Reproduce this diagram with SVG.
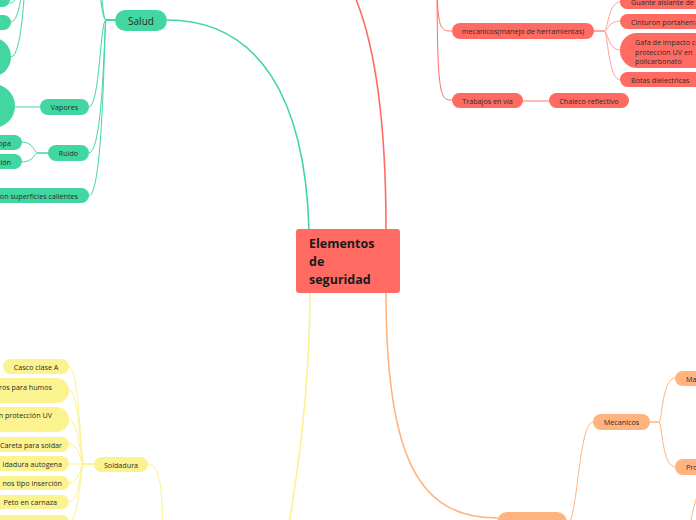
<svg xmlns="http://www.w3.org/2000/svg" width="696" height="520" viewBox="0 0 696 520">
<style>
text{font-family:"Open Sans","Liberation Sans",sans-serif;fill:#2b2b2b;font-size:7.2px;dominant-baseline:central}
.c{text-anchor:middle}.e{text-anchor:end}
.g{fill:#42D6A1}.r{fill:#FF6B62}.y{fill:#FBF38F}.o{fill:#FFB47F}
.l{fill:none;stroke-linecap:round}
.lg{stroke:#42D6A1}.lr{stroke:#FF6B62}.ly{stroke:#FBF38F}.lo{stroke:#FFB47F}
.lrs{stroke:#FFA29C}
.big{font-size:12.5px;font-weight:bold;fill:#1a1a1a}
</style>
<rect width="696" height="520" fill="#fff"/>
<g id="connectors">
<path class="l lg" stroke-width="1.6" d="M167,20 C260,20 305,100 309,229"/>
<path class="l lr" stroke-width="1.6" d="M386,229 C386,120 375,40 352,-10"/>
<path class="l ly" stroke-width="1.6" d="M310,293 C310,380 300,460 288,530"/>
<path class="l lo" stroke-width="1.6" d="M386,293 C386,460 420,518 497,518"/>
<g stroke-width="1">
<path class="l lg" d="M115,20 L106,20 C100,20 100,-40 89,-40"/>
<path class="l lg" d="M115,20 L106,20 C100,20 100,-90 89,-90"/>
<path class="l lg" d="M115,20 L106,20 C100,20 100,107 89,107"/>
<path class="l lg" d="M115,20 L106,20 C104,20 104,153 89,153"/>
<path class="l lg" d="M115,20 L106,20 C104,20 104,196 89,196"/>
<path class="l lg" d="M27,-30 C21,-30 21,3 10,3"/>
<path class="l lg" d="M27,-30 C22,-30 22,22 11,22"/>
<path class="l lg" d="M27,-30 C24,-30 24,57 11,57"/>
<path class="l lg" d="M40,107 L15,107"/>
<path class="l lg" d="M48,153 L38,153 C34,153 34,142 22,142"/>
<path class="l lg" d="M48,153 L38,153 C34,153 34,162 22,162"/>
<path class="l lr" d="M437,-30 C437,31 440,31 452,31"/>
<path class="l lr" d="M437,-30 C437,100 440,100 452,100"/>
<path class="l lrs" d="M594,31 L604,31 C608,31 608,2 620,2"/>
<path class="l lrs" d="M594,31 L604,31 C608,31 608,21 620,21"/>
<path class="l lrs" d="M594,31 L604,31 C608,31 608,50 620,50"/>
<path class="l lrs" d="M594,31 L604,31 C608,31 608,80 620,80"/>
<path class="l lrs" stroke-width="1.5" d="M523,101 L549,101"/>
<path class="l ly" d="M94,464 L84,464 C80,464 80,367 69,367"/>
<path class="l ly" d="M94,464 L84,464 C80,464 80,390 69,390"/>
<path class="l ly" d="M94,464 L84,464 C80,464 80,420 69,420"/>
<path class="l ly" d="M94,464 L84,464 C80,464 80,444 69,444"/>
<path class="l ly" d="M94,464 L69,464"/>
<path class="l ly" d="M94,464 L84,464 C80,464 80,483 69,483"/>
<path class="l ly" d="M94,464 L84,464 C80,464 80,502 69,502"/>
<path class="l ly" d="M94,464 L84,464 C80,464 80,522 69,522"/>
<path class="l ly" d="M148,464 C160,464 162,490 163,525"/>
<path class="l lo" d="M567,525 C578,525 578,422 593,422"/>
<path class="l lo" d="M650,422 L659,422 C662,422 662,378 675,378"/>
<path class="l lo" d="M650,422 L659,422 C662,422 662,467 675,467"/>
<path class="l lo" d="M690,525 C693,510 695,500 700,490"/>
</g>
</g>
<g id="center"><rect x="296" y="229" width="104" height="64" rx="3" class="r"/>
<text x="309" y="243" class="big">Elementos</text>
<text x="309" y="261" class="big">de</text>
<text x="309" y="279" class="big">seguridad</text></g>
<g id="salud"><rect x="115" y="10" width="52" height="21" rx="10.5" class="g"/><text x="141" y="20.5" class="c" style="font-size:10px">Salud</text></g>
<g id="g-top1"><rect x="-60" y="-8" width="70" height="15" rx="7.5" class="g"/></g>
<g id="g-top2"><rect x="-60" y="15" width="71" height="15" rx="7.5" class="g"/></g>
<g id="g-big1"><rect x="-60" y="37" width="71" height="40" rx="20" class="g"/></g>
<g id="g-big2"><rect x="-60" y="84" width="75" height="44" rx="22" class="g"/></g>
<g id="vapores"><rect x="40" y="99" width="49" height="16" rx="8" class="g"/><text x="64.5" y="107" class="c">Vapores</text></g>
<g id="ruido"><rect x="48" y="145" width="41" height="16" rx="8" class="g"/><text x="68.5" y="153" class="c">Ruido</text></g>
<g id="g-copa"><rect x="-60" y="135" width="82" height="15" rx="7.5" class="g"/><text x="11" y="142.5" class="e">opa</text></g>
<g id="g-cion"><rect x="-60" y="154" width="82" height="15" rx="7.5" class="g"/><text x="11" y="161.5" class="e">ción</text></g>
<g id="g-sup"><rect x="-60" y="188" width="149" height="15" rx="7.5" class="g"/><text x="78" y="195.5" class="e">con superficies calientes</text></g>
<g id="mecanicos-h"><rect x="452" y="23" width="142" height="16" rx="8" class="r"/><text x="523" y="31" class="c">mecanicos(manejo de herramientas)</text></g>
<g id="trabajos"><rect x="452" y="93" width="71" height="15" rx="7.5" class="r"/><text x="487.5" y="100.5" class="c">Trabajos en via</text></g>
<g id="chaleco"><rect x="549" y="93" width="80" height="15" rx="7.5" class="r"/><text x="589" y="100.5" class="c">Chaleco reflectivo</text></g>
<g id="guante"><rect x="620" y="-5" width="120" height="14" rx="7" class="r"/><text x="631" y="2">Guante aislante de l</text></g>
<g id="cinturon"><rect x="620" y="14" width="120" height="15" rx="7.5" class="r"/><text x="631" y="21.5">Cinturon portaherra</text></g>
<g id="gafa"><rect x="620" y="33" width="120" height="35" rx="17" class="r"/><text x="635" y="42">Gafa de impacto co</text><text x="635" y="51.5">proteccion UV en</text><text x="635" y="61">policarbonato</text></g>
<g id="botas"><rect x="620" y="72" width="120" height="15" rx="7.5" class="r"/><text x="631" y="79.5">Botas dielectricas</text></g>
<g id="casco"><rect x="3" y="359" width="66" height="15" rx="7.5" class="y"/><text x="36" y="366.5" class="c">Casco clase A</text></g>
<g id="humos"><rect x="-60" y="378" width="129" height="25" rx="12.5" class="y"/><text x="52" y="387" class="e">ros para humos</text></g>
<g id="uv"><rect x="-60" y="407" width="129" height="25" rx="12.5" class="y"/><text x="52" y="415" class="e">n protección UV</text></g>
<g id="careta"><rect x="-60" y="437" width="129" height="15" rx="7.5" class="y"/><text x="62" y="444.5" class="e">Careta para soldar</text></g>
<g id="autogena"><rect x="-60" y="456" width="129" height="15" rx="7.5" class="y"/><text x="62" y="463.5" class="e">ldadura autogena</text></g>
<g id="insercion"><rect x="-60" y="476" width="129" height="14" rx="7" class="y"/><text x="62" y="483" class="e">nos tipo inserción</text></g>
<g id="peto"><rect x="-60" y="495" width="129" height="14" rx="7" class="y"/><text x="57" y="502" class="e">Peto en carnaza</text></g>
<g id="y-last"><rect x="-60" y="515" width="129" height="20" rx="7" class="y"/></g>
<g id="soldadura"><rect x="94" y="457" width="54" height="15" rx="7.5" class="y"/><text x="121" y="464.5" class="c">Soldadura</text></g>
<g id="mecanicos"><rect x="593" y="414" width="57" height="16" rx="8" class="o"/><text x="621.5" y="422" class="c">Mecanicos</text></g>
<g id="ma"><rect x="675" y="371" width="60" height="15" rx="7.5" class="o"/><text x="686" y="378.5">Ma</text></g>
<g id="pro"><rect x="675" y="459" width="60" height="16" rx="8" class="o"/><text x="686" y="467">Pro</text></g>
<g id="o-bottom"><rect x="497" y="512" width="70" height="30" rx="10" class="o"/></g>
</svg>
